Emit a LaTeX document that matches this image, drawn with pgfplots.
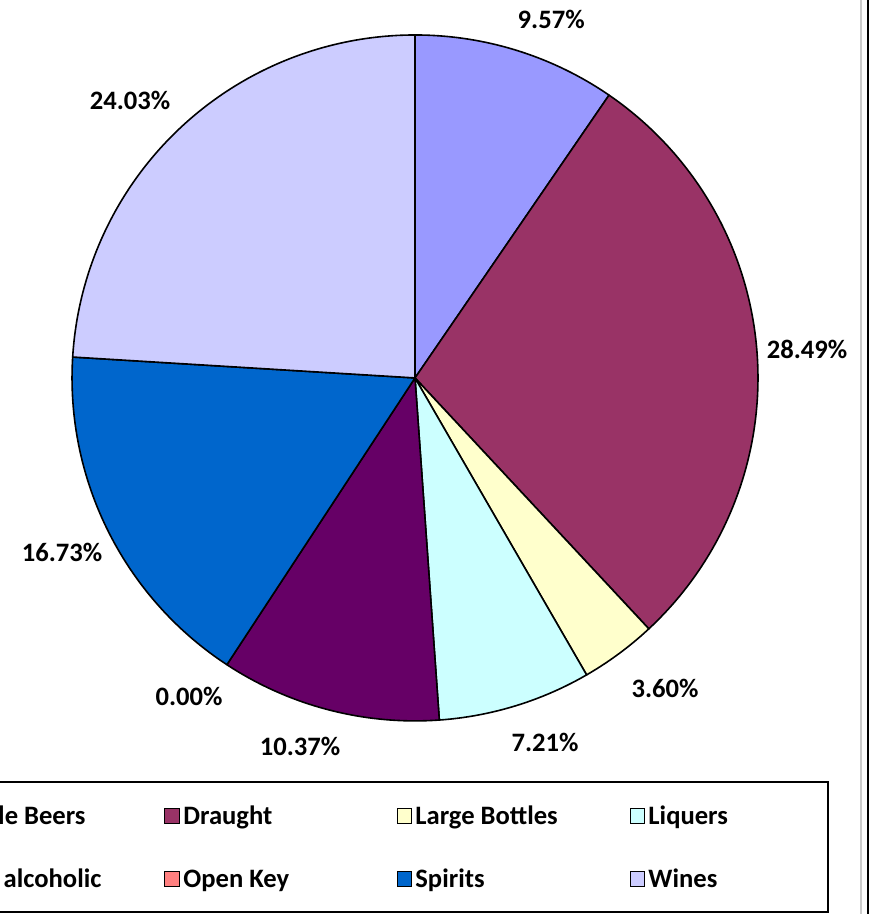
\documentclass[border=0pt]{standalone}
\usepackage{pgfplots}
\pgfplotsset{compat=1.18}
\usepackage{pgfplotstable}
\usepackage{fontspec}
\setmainfont{Carlito}
\definecolor{pie0}{HTML}{9999FF}
\definecolor{pie1}{HTML}{993366}
\definecolor{pie2}{HTML}{FFFFCC}
\definecolor{pie3}{HTML}{CCFFFF}
\definecolor{pie4}{HTML}{660066}
\definecolor{pie5}{HTML}{FF8080}
\definecolor{pie6}{HTML}{0066CC}
\definecolor{pie7}{HTML}{CCCCFF}
\newcommand\lblfont{\fontsize{13.3}{16}\selectfont\bfseries}
\pgfplotstableread[col sep=comma]{
name,value,lx,ly
Bottle Beers,9.57,0.397,1.044
Draught,28.49,1.143,0.082
Large Bottles,3.60,0.729,-0.904
Liquers,7.21,0.379,-1.064
Non alcoholic,10.37,-0.335,-1.073
Open Key,0.00,-0.659,-0.930
Spirits,16.73,-1.029,-0.510
Wines,24.03,-0.831,0.808
}\piedata
\begin{document}
\begin{tikzpicture}
\begin{axis}[
  scale only axis, width=438.5pt, height=457pt,
  xmin=-1.210, xmax=1.347, ymin=-1.563, ymax=1.102,
  hide axis, clip=true]
\coordinate (bl) at (rel axis cs:0,0);
\coordinate (tr) at (rel axis cs:1,1);
\def\cum{0}
\pgfplotsforeachungrouped \i in {0,...,7}{%
  \pgfplotstablegetelem{\i}{value}\of\piedata
  \let\val\pgfplotsretval
  \pgfmathsetmacro\angA{90-3.6*\cum}%
  \pgfmathsetmacro\cum{\cum+\val}%
  \pgfmathsetmacro\angB{90-3.6*\cum}%
  \ifdim\val pt>0pt
    \edef\cmd{\noexpand\addplot[draw=black, line width=0.8pt, line join=round, fill=pie\i, domain=\angB:\angA, samples=120, variable=\noexpand\t] ({cos(\noexpand\t)},{sin(\noexpand\t)}) -- (axis cs:0,0) -- cycle;}%
    \cmd
  \fi
}
\pgfplotsforeachungrouped \i in {0,...,7}{%
  \pgfplotstablegetelem{\i}{value}\of\piedata \let\val\pgfplotsretval
  \pgfplotstablegetelem{\i}{lx}\of\piedata \let\lx\pgfplotsretval
  \pgfplotstablegetelem{\i}{ly}\of\piedata \let\ly\pgfplotsretval
  \edef\cmd{\noexpand\node[font=\noexpand\lblfont, inner sep=0pt] at (axis cs:\lx,\ly) {\val\noexpand\%};}%
  \cmd
}
% legend
\draw[black, line width=1pt, fill=white] (axis cs:-1.6,-1.178) rectangle (axis cs:1.204,-1.557);
\foreach \sx/\sy/\c/\txt in {
  -1.405/-1.277/pie0/Bottle Beers,
  -0.729/-1.277/pie1/Draught,
  -0.0525/-1.277/pie2/Large Bottles,
  0.627/-1.277/pie3/Liquers,
  -1.405/-1.461/pie4/Non alcoholic,
  -0.729/-1.461/pie5/Open Key,
  -0.0525/-1.461/pie6/Spirits,
  0.627/-1.461/pie7/Wines}{
  \edef\cmd{\noexpand\draw[black, line width=0.5pt, fill=\c] (axis cs:\sx,\sy-0.023) rectangle (axis cs:\sx+0.043,\sy+0.023);
  \noexpand\node[anchor=base west, inner sep=0pt, font=\noexpand\lblfont] at (axis cs:\sx+0.0525,\sy-0.024) {\txt};}
  \cmd
}
\draw[gray!40, line width=0.8pt] (axis cs:1.300,-1.6) -- (axis cs:1.300,1.2);
\draw[black, line width=1pt] (axis cs:1.321,-1.6) -- (axis cs:1.321,1.2);
\end{axis}
\pgfresetboundingbox
\path[use as bounding box] (bl) rectangle (tr);
\end{tikzpicture}
\end{document}
